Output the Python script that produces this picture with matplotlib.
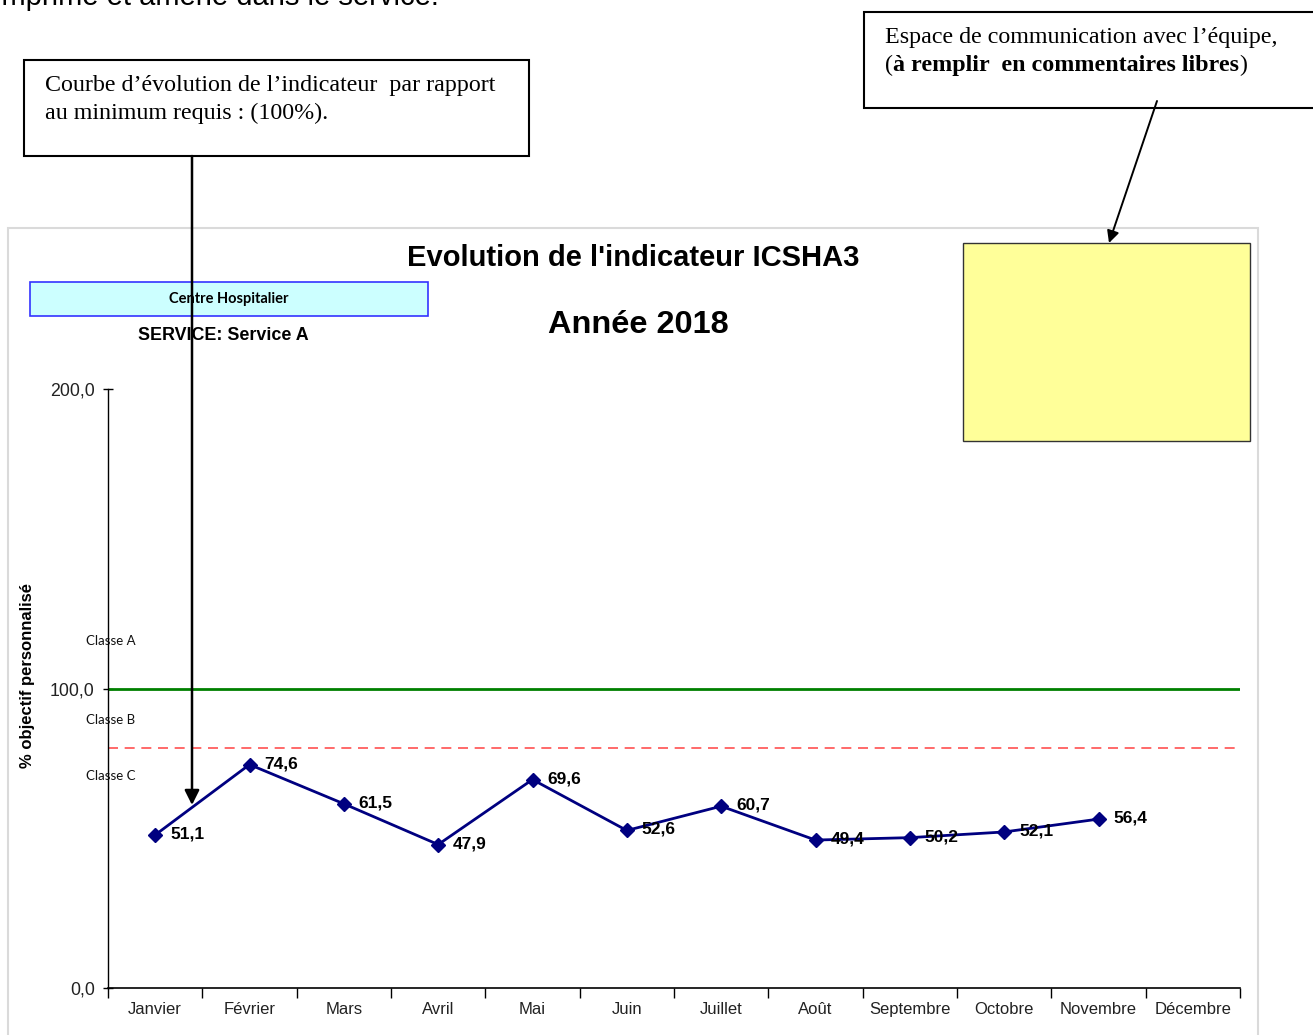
import matplotlib
matplotlib.use("Agg")
import matplotlib.pyplot as plt
from matplotlib.patches import Rectangle, FancyArrowPatch

months = ["Janvier", "Février", "Mars", "Avril", "Mai", "Juin", "Juillet",
          "Août", "Septembre", "Octobre", "Novembre", "Décembre"]
values = [51.1, 74.6, 61.5, 47.9, 69.6, 52.6, 60.7, 49.4, 50.2, 52.1, 56.4]
value_labels = ["51,1", "74,6", "61,5", "47,9", "69,6", "52,6", "60,7",
                "49,4", "50,2", "52,1", "56,4"]
yticks = [0, 100, 200]
ytick_labels = ["0,0", "100,0", "200,0"]
objective = 100
class_limit = 80
class_names = ["Classe A", "Classe B", "Classe C"]
class_positions = [116, 89.5, 70.8]

W, H = 1313, 1035
fig = plt.figure(figsize=(W / 100, H / 100), dpi=100)
fig.patch.set_facecolor("white")

def fx(px):
    return px / W

def fy(py):
    return 1 - py / H

SANS = "Liberation Sans"
SERIF = "Liberation Serif"
CAL = "Lato"

# chart panel
panel = Rectangle((fx(8), fy(1045)), fx(1258) - fx(8), fy(228) - fy(1045),
                  transform=fig.transFigure, facecolor="white",
                  edgecolor="#DADADA", lw=1.5, zorder=-2)
fig.add_artist(panel)

ax = fig.add_axes([fx(108), fy(988), fx(1240) - fx(108), fy(389) - fy(988)])
ax.set_facecolor("none")
x = list(range(len(values)))
ax.set_xlim(-0.5, 11.5)
ax.set_ylim(0, 200)
ax.axhline(objective, color="#008000", lw=2, zorder=2)
ax.axhline(class_limit, color="#FF5050", lw=1.2, ls=(0, (6, 4)), zorder=2)
ax.plot(x, values, color="#000080", lw=2, marker="D", markersize=7,
        markerfacecolor="#000080", markeredgecolor="#000080", zorder=3)
for xi, v, lab in zip(x, values, value_labels):
    ax.annotate(lab, (xi, v), xytext=(15, 1), textcoords="offset pixels",
                ha="left", va="center", fontsize=12.5, fontweight="bold",
                family=SANS, color="black", zorder=4)

for s in ["top", "right"]:
    ax.spines[s].set_visible(False)
ax.spines["left"].set_color("black")
ax.spines["bottom"].set_color("black")
ax.spines["left"].set_linewidth(1)
ax.spines["bottom"].set_linewidth(1.2)

ax.set_yticks(yticks)
ax.set_yticklabels(ytick_labels, family=SANS, fontsize=12.8, color="#222222")
ax.tick_params(axis="y", length=7, width=1, direction="inout", pad=6)
ax.set_xticks(x + [11])
ax.set_xticklabels(months, family=SANS, fontsize=12, color="#222222")
ax.tick_params(axis="x", length=0, pad=10)
ax.set_xticks([i - 0.5 for i in range(13)], minor=True)
ax.tick_params(axis="x", which="minor", length=7, width=1, direction="out")

fig.text(fx(28), fy(675), "% objectif personnalisé", rotation=90,
         ha="center", va="center", fontsize=12, fontweight="bold",
         family=SANS)

for lab, yv in zip(class_names, class_positions):
    fig.text(fx(111), fy(988 - yv * 2.995), lab, ha="center", va="center",
             fontsize=9.5, family=CAL, color="#111111")

# titles
fig.text(fx(633), fy(258), "Evolution de l'indicateur ICSHA3", ha="center",
         va="center", fontsize=21, fontweight="bold", family=SANS)
fig.text(fx(638), fy(325), "Année 2018", ha="center", va="center",
         fontsize=23.4, fontweight="bold", family=SANS)

# centre hospitalier box
fig.add_artist(Rectangle((fx(30), fy(316)), fx(428) - fx(30), fy(282) - fy(316),
                         transform=fig.transFigure, facecolor="#CCFFFF",
                         edgecolor="#3333FF", lw=1.2, zorder=1))
fig.text(fx(229), fy(299), "Centre Hospitalier", ha="center", va="center",
         fontsize=10.5, fontweight="bold", family=CAL, zorder=2)
fig.text(fx(223), fy(335), "SERVICE: Service A", ha="center", va="center",
         fontsize=12.9, fontweight="bold", family=SANS)

# yellow comment box
fig.add_artist(Rectangle((fx(963), fy(441)), fx(1250) - fx(963), fy(243) - fy(441),
                         transform=fig.transFigure, facecolor="#FFFF99",
                         edgecolor="#333333", lw=1, zorder=1))

# annotation boxes
FS = 17.3
fig.add_artist(Rectangle((fx(24), fy(156)), fx(529) - fx(24), fy(60) - fy(156),
                         transform=fig.transFigure, facecolor="white",
                         edgecolor="black", lw=1.5, zorder=1))
fig.text(fx(45), fy(86), "Courbe d’évolution de l’indicateur  par rapport",
         ha="left", va="center", fontsize=FS, family=SERIF, zorder=2)
fig.text(fx(45), fy(113), "au minimum requis : (100%).",
         ha="left", va="center", fontsize=FS, family=SERIF, zorder=2)

fig.add_artist(Rectangle((fx(864), fy(108)), fx(1330) - fx(864), fy(12) - fy(108),
                         transform=fig.transFigure, facecolor="white",
                         edgecolor="black", lw=1.5, zorder=1))
fig.text(fx(885), fy(38), "Espace de communication avec l’équipe,",
         ha="left", va="center", fontsize=FS, family=SERIF, zorder=2)

# cut-off text at top
fig.text(fx(-5), fy(5), "imprimé et amené dans le service.", ha="left",
         va="baseline", fontsize=21, family=SANS)

# arrows
fig.add_artist(FancyArrowPatch((fx(192), fy(156)), (fx(192), fy(805)),
                               transform=fig.transFigure, arrowstyle="-|>",
                               mutation_scale=22, color="black", lw=1.8,
                               shrinkA=0, shrinkB=0, zorder=5))
fig.add_artist(FancyArrowPatch((fx(1157), fy(101)), (fx(1109), fy(243)),
                               transform=fig.transFigure, arrowstyle="-|>",
                               mutation_scale=18, color="black", lw=1.4,
                               shrinkA=0, shrinkB=0, zorder=5))

# second line of the comment box: "(" + bold text + ")"
base = fy(71)
t_open = fig.text(fx(885), base, "(", ha="left", va="baseline", fontsize=FS,
                  family=SERIF, zorder=2)
fig.canvas.draw()
r = fig.canvas.get_renderer()
x1 = t_open.get_window_extent(r).x1
t_bold = fig.text(x1 / W, base, "à remplir  en commentaires libres", ha="left",
                  va="baseline", fontsize=FS, family=SERIF, fontweight="bold",
                  zorder=2)
fig.canvas.draw()
x2 = t_bold.get_window_extent(r).x1
fig.text(x2 / W, base, ")", ha="left", va="baseline", fontsize=FS,
         family=SERIF, zorder=2)

fig.savefig("out.png", dpi=100)
